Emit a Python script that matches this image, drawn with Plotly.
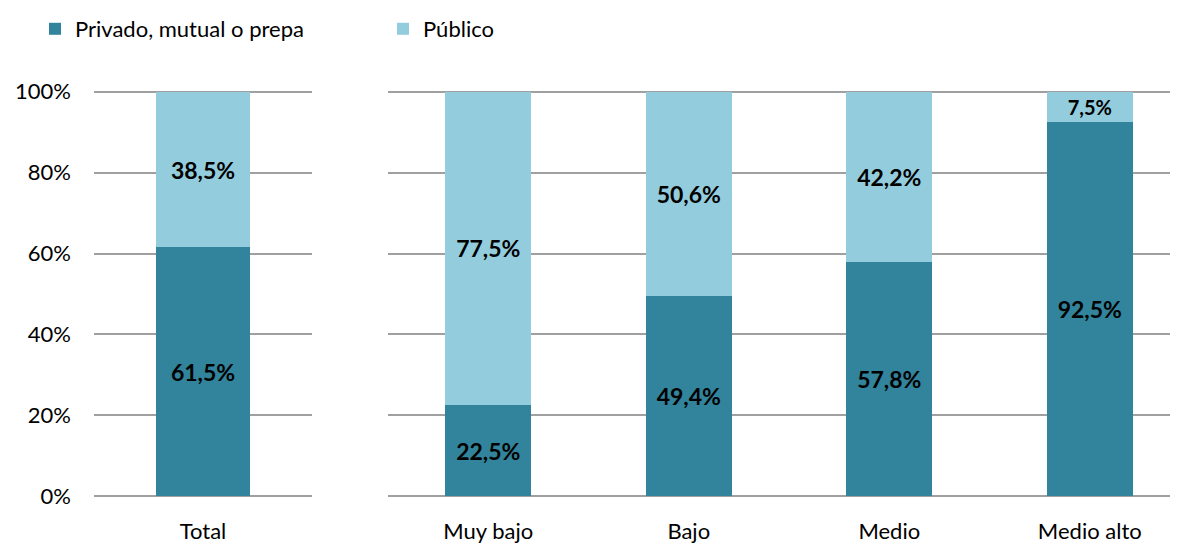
import plotly.graph_objects as go

# data
total_cat = ["Total"]
total_privado = [61.5]
total_publico = [38.5]

nivel_cat = ["Muy bajo", "Bajo", "Medio", "Medio alto"]
nivel_privado = [22.5, 49.4, 57.8, 92.5]
nivel_publico = [77.5, 50.6, 42.2, 7.5]

y_ticks = [0, 20, 40, 60, 80, 100]
y_ticktext = ["0%", "20%", "40%", "60%", "80%", "100%"]

serie_privado = "Privado, mutual o prepa"
serie_publico = "Público"

C_PRIV = "#31849B"
C_PUB = "#93CDDD"
FONT = "Lato"


def fmt(vals):
    return [f"{v:.1f}%".replace(".", ",") for v in vals]


fig = go.Figure()

bar_style = dict(width=0.43, textposition="inside", insidetextanchor="middle",
                 textfont=dict(family=FONT, size=23, color="black", weight="bold"),
                 marker_line_width=0)

# left panel: Total
fig.add_trace(go.Bar(x=total_cat, y=total_privado, text=fmt(total_privado), name=serie_privado,
                     marker_color=C_PRIV, xaxis="x", yaxis="y", legendgroup="p", **bar_style))
fig.add_trace(go.Bar(x=total_cat, y=total_publico, text=fmt(total_publico), name=serie_publico,
                     marker_color=C_PUB, xaxis="x", yaxis="y", legendgroup="q", **bar_style))

# right panel: niveles
fig.add_trace(go.Bar(x=nivel_cat, y=nivel_privado, text=fmt(nivel_privado), name=serie_privado,
                     marker_color=C_PRIV, xaxis="x2", yaxis="y2", legendgroup="p", showlegend=False, **bar_style))
fig.add_trace(go.Bar(x=nivel_cat, y=nivel_publico, text=fmt(nivel_publico), name=serie_publico,
                     marker_color=C_PUB, xaxis="x2", yaxis="y2", legendgroup="q", showlegend=False, **bar_style))

# page body has an 8px margin, so the figure is drawn 8px smaller
W, H = 1170, 537
T, B = 77.0, 46.9
PH = H - T - B

xcommon = dict(type="category", showgrid=False, showline=False, zeroline=False,
               ticks="", ticklabelstandoff=18, automargin=False,
               tickfont=dict(family=FONT, size=22, color="black"))
ycommon = dict(range=[-0.4, 100.4], tickvals=y_ticks, ticktext=y_ticktext, showgrid=True,
               gridcolor="#A0A0A0", gridwidth=2, zeroline=False, showline=False,
               automargin=False, domain=[0, 1])

fig.update_layout(
    width=W, height=H,
    margin=dict(l=0, r=0, t=T, b=B),
    paper_bgcolor="white", plot_bgcolor="white",
    barmode="stack",
    font=dict(family=FONT, size=22, color="black"),
    xaxis=dict(domain=[86 / W, 304 / W], range=[-0.5, 0.5], anchor="y", **xcommon),
    xaxis2=dict(domain=[380 / W, 1.0], range=[-0.5, 3.44], anchor="y2", **xcommon),
    yaxis=dict(anchor="x", showticklabels=True, ticklabelstandoff=22,
               tickfont=dict(family=FONT, size=22, color="black"), **ycommon),
    yaxis2=dict(anchor="x2", showticklabels=False, **ycommon),
    legend=dict(orientation="h", x=27 / W, xanchor="left", y=(H - B - 15) / PH, yanchor="middle",
                entrywidth=303, font=dict(family=FONT, size=22, color="black"),
                itemwidth=30, tracegroupgap=0),
    showlegend=True,
)

fig.write_html("out.html")
